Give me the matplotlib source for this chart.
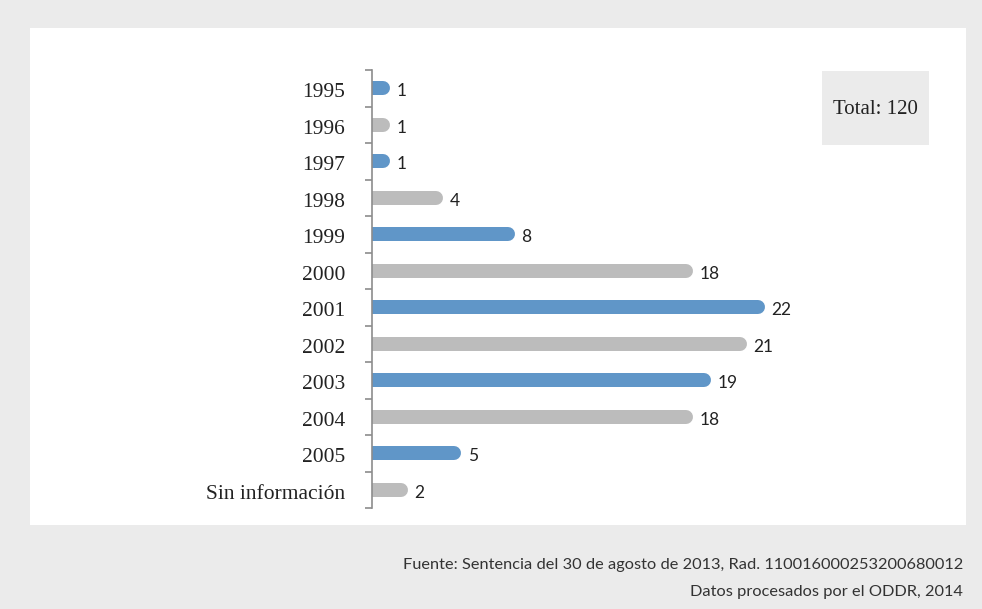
import matplotlib.pyplot as plt
from matplotlib.patches import Rectangle

categorias = ['1995', '1996', '1997', '1998', '1999', '2000', '2001',
              '2002', '2003', '2004', '2005', 'Sin información']
valores = [1, 1, 1, 4, 8, 18, 22, 21, 19, 18, 5, 2]
total = 120

azul = '#6096c8'
gris = '#bcbcbc'
colores = [azul if i % 2 == 0 else gris for i in range(len(categorias))]

W, H = 982, 609
fig = plt.figure(figsize=(W / 100, H / 100), dpi=100)
fig.patch.set_facecolor('#ebebeb')

# panel blanco
fig.patches.append(Rectangle((30 / W, 1 - 525 / H), 936 / W, 497 / H,
                             transform=fig.transFigure, facecolor='white',
                             edgecolor='none', zorder=-2))

ax = fig.add_axes([372 / W, 1 - 508 / H, 590 / W, 438 / H])
ax.set_zorder(3)
ax.set_facecolor('none')
px_por_unidad = 17.85
ax.set_xlim(0, 590 / px_por_unidad)
n = len(categorias)
ax.set_ylim(n - 0.5, -0.5)

alto_px = 14
lw = alto_px * 0.72
cap = (alto_px / 2) / px_por_unidad
for i, (v, c) in enumerate(zip(valores, colores)):
    # barra con extremo derecho redondeado
    ax.plot([-2, v - cap], [i, i], color=c, lw=lw, solid_capstyle='round',
            clip_on=True, zorder=2)
    ax.text(v + 0.38, i + 0.08, str(v), va='center', ha='left',
            fontsize=12.5, family='Lato', color='#222222')

for s in ['top', 'right', 'bottom']:
    ax.spines[s].set_visible(False)
ax.spines['left'].set_color('#8c8c8c')
ax.spines['left'].set_linewidth(1.2)
ax.spines['left'].set_zorder(4)
ax.set_xticks([])
ax.set_yticks([i - 0.5 for i in range(n + 1)])
ax.set_yticklabels([])
ax.tick_params(axis='y', direction='out', length=5, color='#8c8c8c', width=1.2)
for i, cat in enumerate(categorias):
    ax.text(-27 / px_por_unidad, i + 0.12, cat, ha='right', va='center',
            fontsize=15.5, family='Liberation Serif', color='#222222',
            clip_on=False)

# recuadro del total
fig.patches.append(Rectangle((822 / W, 1 - 145 / H), 107 / W, 74 / H,
                             transform=fig.transFigure, facecolor='#ebebeb',
                             edgecolor='none', zorder=-1))
fig.text(875 / W, 1 - 110 / H, f'Total: {total}', ha='center', va='center',
         fontsize=15, family='Liberation Serif', color='#222222')

fig.text(963 / W, 1 - 565 / H,
         'Fuente: Sentencia del 30 de agosto de 2013, Rad. 110016000253200680012',
         ha='right', va='center', fontsize=11.8, family='Lato',
         color='#333333')
fig.text(963 / W, 1 - 592 / H, 'Datos procesados por el ODDR, 2014',
         ha='right', va='center', fontsize=11.8, family='Lato',
         color='#333333')

fig.savefig('out.png', dpi=100, facecolor=fig.get_facecolor())
